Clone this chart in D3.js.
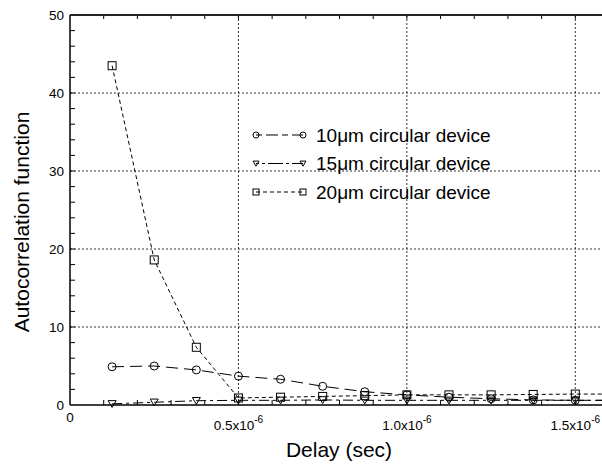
<!DOCTYPE html>
<html>
<head>
<meta charset="utf-8">
<script src="https://cdn.jsdelivr.net/npm/d3@7"></script>
<style>
body { margin: 0; background: #fff; }
svg { display: block; font-family: "Liberation Sans", Arial, sans-serif; }
.grid { stroke: #333; stroke-width: 1; stroke-dasharray: 2,2; }
.series { fill: none; stroke: #000; stroke-width: 1; }
.marker { fill: none; stroke: #000; stroke-width: 1; }
</style>
</head>
<body>
<svg width="602" height="470"></svg>
<script>
// delay in units of 1e-6 sec
var delays = [0.125, 0.25, 0.375, 0.5, 0.625, 0.75, 0.875, 1.0, 1.125, 1.25, 1.375, 1.5, 1.625];
var dev10 = [4.9, 5.0, 4.5, 3.7, 3.3, 2.4, 1.7, 1.3, 1.0, 0.8, 0.65, 0.6, 0.6];
var dev15 = [0.15, 0.35, 0.55, 0.6, 0.6, 0.65, 0.6, 0.6, 0.6, 0.6, 0.6, 0.6, 0.6];
var dev20 = [43.5, 18.6, 7.4, 0.9, 1.0, 1.1, 1.2, 1.3, 1.3, 1.3, 1.35, 1.4, 1.4];
var series_names = ["10\u03bcm circular device", "15\u03bcm circular device", "20\u03bcm circular device"];
var y_ticks = [0, 10, 20, 30, 40, 50];
var x_ticks = [0, 0.5, 1.0, 1.5];
var x_tick_labels = ["0", "0.5x10", "1.0x10", "1.5x10"];

var svg = d3.select("svg"),
    svg_width = +svg.attr("width"),
    svg_height = +svg.attr("height"),
    margin = {top: 15, left: 70};

var x = d3.scaleLinear().domain([0, 1.6]).range([70, 609]),
    y = d3.scaleLinear().domain([0, 50]).range([405, 15]);

svg.append("rect")
    .attr("width", svg_width)
    .attr("height", svg_height)
    .attr("fill", "#fff");

// grid
svg.append("g").selectAll("line")
    .data(y_ticks.filter(function(d){ return d > 0 && d < 50; }))
    .enter().append("line")
    .attr("class", "grid")
    .attr("x1", x(0)).attr("x2", svg_width)
    .attr("y1", function(d){ return y(d); })
    .attr("y2", function(d){ return y(d); });

svg.append("g").selectAll("line")
    .data(x_ticks.filter(function(d){ return d > 0; }))
    .enter().append("line")
    .attr("class", "grid")
    .attr("y1", y(0)).attr("y2", y(50))
    .attr("x1", function(d){ return x(d); })
    .attr("x2", function(d){ return x(d); });

// minor ticks
var minor_x = d3.range(1, 16).map(function(i){ return i / 10; });
var minor_y = d3.range(1, 25).map(function(i){ return i * 2; });

svg.append("g").selectAll("line")
    .data(minor_x)
    .enter().append("line")
    .attr("stroke", "#000")
    .attr("x1", function(d){ return x(d); })
    .attr("x2", function(d){ return x(d); })
    .attr("y1", y(0)).attr("y2", y(0) - 5);

svg.append("g").selectAll("line")
    .data(minor_x)
    .enter().append("line")
    .attr("stroke", "#000")
    .attr("x1", function(d){ return x(d); })
    .attr("x2", function(d){ return x(d); })
    .attr("y1", y(50)).attr("y2", y(50) + 4);

svg.append("g").selectAll("line")
    .data(minor_y)
    .enter().append("line")
    .attr("stroke", "#000")
    .attr("x1", x(0)).attr("x2", x(0) + 5)
    .attr("y1", function(d){ return y(d); })
    .attr("y2", function(d){ return y(d); });

// frame
svg.append("line")
    .attr("x1", x(0)).attr("x2", svg_width)
    .attr("y1", y(50)).attr("y2", y(50))
    .attr("stroke", "#222").attr("stroke-width", 2);
svg.append("line")
    .attr("x1", x(0)).attr("x2", svg_width)
    .attr("y1", y(0)).attr("y2", y(0))
    .attr("stroke", "#000").attr("stroke-width", 1.5);
svg.append("line")
    .attr("x1", x(0)).attr("x2", x(0))
    .attr("y1", y(0)).attr("y2", y(50))
    .attr("stroke", "#000").attr("stroke-width", 1.5);

// tick labels
svg.append("g").selectAll("text")
    .data(y_ticks)
    .enter().append("text")
    .attr("x", 64)
    .attr("y", function(d){ return y(d); })
    .attr("dy", "0.36em")
    .attr("text-anchor", "end")
    .attr("font-size", 13.5)
    .text(function(d){ return d; });

var x_labels = svg.append("g").selectAll("text")
    .data(x_ticks)
    .enter().append("text")
    .attr("x", function(d){ return x(d); })
    .attr("y", function(d, i){ return i === 0 ? 422 : 430; })
    .attr("text-anchor", "middle")
    .attr("font-size", 13.5);
x_labels.append("tspan").text(function(d, i){ return x_tick_labels[i]; });
x_labels.filter(function(d, i){ return i > 0; })
    .append("tspan")
    .attr("dy", -7)
    .attr("font-size", 10)
    .text("-6");

// axis titles
svg.append("text")
    .attr("x", 339)
    .attr("y", 457)
    .attr("text-anchor", "middle")
    .attr("font-size", 21)
    .text("Delay (sec)");

svg.append("text")
    .attr("transform", "translate(29,222) rotate(-90)")
    .attr("text-anchor", "middle")
    .attr("font-size", 21)
    .text("Autocorrelation function");

// series
var series = [
    {name: series_names[0], values: dev10, dash: "12,6", shape: "circle"},
    {name: series_names[1], values: dev15, dash: "10,4,3,4", shape: "triangle"},
    {name: series_names[2], values: dev20, dash: "4,3", shape: "square"}
];

var line = d3.line()
    .x(function(d){ return x(d[0]); })
    .y(function(d){ return y(d[1]); });

function drawMarker(g, shape, cx, cy, s) {
    if (shape === "circle") {
        g.append("circle").attr("class", "marker").attr("cx", cx).attr("cy", cy).attr("r", s);
    } else if (shape === "square") {
        g.append("rect").attr("class", "marker")
            .attr("x", cx - s).attr("y", cy - s)
            .attr("width", 2 * s).attr("height", 2 * s);
    } else {
        g.append("path").attr("class", "marker")
            .attr("d", "M" + (cx - s) + "," + (cy - s * 0.8) + "L" + (cx + s) + "," + (cy - s * 0.8) +
                "L" + cx + "," + (cy + s * 0.9) + "Z");
    }
}

var plot = svg.append("g");
series.forEach(function(s) {
    var pts = delays.map(function(d, i){ return [d, s.values[i]]; });
    plot.append("path")
        .datum(pts)
        .attr("class", "series")
        .attr("stroke-dasharray", s.dash)
        .attr("d", line);
    pts.forEach(function(p) {
        drawMarker(plot, s.shape, x(p[0]), y(p[1]), s.shape === "circle" ? 4 : 4);
    });
});

// legend
var legend = svg.append("g").attr("transform", "translate(256,135)");
series.forEach(function(s, i) {
    var ly = i * 28.5;
    legend.append("line")
        .attr("x1", 0).attr("x2", 47)
        .attr("y1", ly).attr("y2", ly)
        .attr("stroke", "#000")
        .attr("stroke-dasharray", s.dash === "12,6" ? "6,4,12,4" : (s.dash === "4,3" ? "4,3" : "3,3,3,3,12,0"));
    drawMarker(legend, s.shape, 0, ly, 3);
    drawMarker(legend, s.shape, 47, ly, 3);
    legend.append("text")
        .attr("x", 60)
        .attr("y", ly)
        .attr("dy", "0.36em")
        .attr("font-size", 19)
        .text(s.name);
});
</script>
</body>
</html>
